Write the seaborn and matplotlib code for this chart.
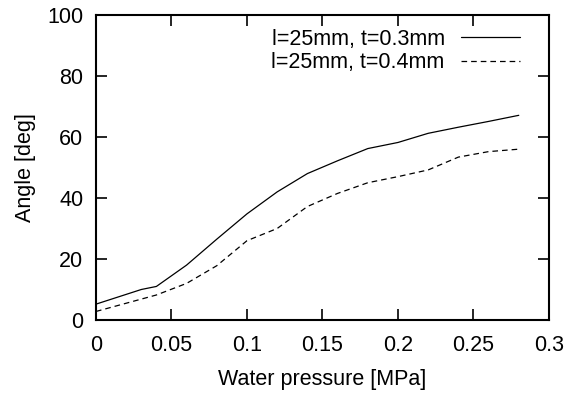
import matplotlib
matplotlib.use("Agg")
import matplotlib.pyplot as plt
import seaborn as sns
import pandas as pd

x_03 = [0, 0.03, 0.04, 0.06, 0.08, 0.10, 0.12, 0.14, 0.16, 0.18, 0.20, 0.22, 0.24, 0.26, 0.28]
y_03 = [5.2, 10.0, 11.0, 18.0, 26.5, 34.8, 42.0, 48.0, 52.2, 56.2, 58.2, 61.2, 63.2, 65.1, 67.1]
x_04 = [0, 0.04, 0.06, 0.08, 0.10, 0.12, 0.14, 0.16, 0.18, 0.20, 0.22, 0.24, 0.26, 0.28]
y_04 = [2.8, 8.2, 12.0, 17.8, 26.0, 30.0, 37.2, 41.5, 45.0, 47.0, 49.2, 53.4, 55.2, 56.0]
labels = ["l=25mm, t=0.3mm", "l=25mm, t=0.4mm"]
xticks = [0, 0.05, 0.1, 0.15, 0.2, 0.25, 0.3]
xticklabels = ["0", "0.05", "0.1", "0.15", "0.2", "0.25", "0.3"]
yticks = [0, 20, 40, 60, 80, 100]
xlabel = "Water pressure [MPa]"
ylabel = "Angle [deg]"

df = pd.concat([
    pd.DataFrame({"x": x_03, "y": y_03, "s": labels[0]}),
    pd.DataFrame({"x": x_04, "y": y_04, "s": labels[1]}),
])

sns.set_style("ticks")
plt.rcParams["font.family"] = ["Liberation Sans", "DejaVu Sans"]
plt.rcParams["font.size"] = 15.5
plt.rcParams["text.color"] = "black"
plt.rcParams["axes.labelcolor"] = "black"

fig = plt.figure(figsize=(5.68, 3.99), dpi=100)
ax = fig.add_axes([0.169, 0.198, 0.7975, 0.7645])

sns.lineplot(data=df, x="x", y="y", style="s", hue="s",
             palette=["black", "black"], dashes=["", (4.5, 3.2)],
             linewidth=0.9, ax=ax, legend=True, sort=False)

ax.set_xlim(0, 0.3)
ax.set_ylim(0, 100)
ax.set_xticks(xticks)
ax.set_xticklabels(xticklabels)
ax.set_yticks(yticks)
ax.set_xlabel(xlabel, fontsize=15.5, labelpad=9, color="black")
ax.set_ylabel(ylabel, fontsize=15.5, labelpad=8, color="black")
ax.tick_params(direction="in", length=8, width=1.2, top=True, right=True,
               labelsize=15.5, colors="black")
ax.tick_params(axis="x", pad=11)
ax.tick_params(axis="y", pad=9)
for sp in ax.spines.values():
    sp.set_visible(True)
    sp.set_linewidth(1.5)
    sp.set_color("black")

handles, labs = ax.get_legend_handles_labels()
ax.legend(handles, labs, loc="upper right", bbox_to_anchor=(0.967, 1.0),
          frameon=False, markerfirst=False, handlelength=2.75,
          handletextpad=0.75, fontsize=15.5, labelspacing=0.1,
          borderaxespad=0.25)

fig.savefig("out.png", dpi=100)
